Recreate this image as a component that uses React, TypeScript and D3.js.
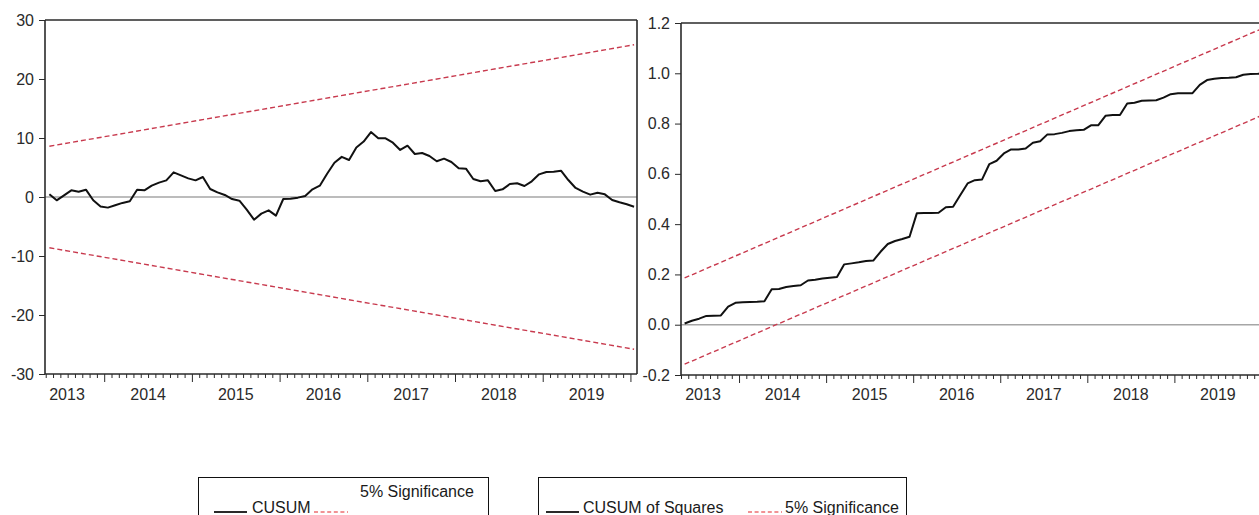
import React, { useRef, useEffect } from 'react';
import * as d3 from 'd3';

// monthly sample 2013M05 .. 2020M01 (81 obs)
const firstYear = 2013;
const firstMonth = 5;
const years = [2013, 2014, 2015, 2016, 2017, 2018, 2019];

const cusum = [
  0.45, -0.56, 0.28, 1.13, 0.9, 1.24, -0.56, -1.6, -1.8, -1.4,
  -1.0, -0.73, 1.24, 1.13, 1.92, 2.43, 2.82, 4.18, 3.67, 3.16,
  2.82, 3.39, 1.36, 0.79, 0.34, -0.34, -0.62, -2.15, -3.84, -2.82,
  -2.26, -3.16, -0.34, -0.28, -0.11, 0.17, 1.3, 1.92, 3.95, 5.8,
  6.8, 6.27, 8.4, 9.4, 11.0, 9.94, 9.94, 9.2, 7.97, 8.7,
  7.29, 7.46, 6.95, 6.05, 6.5, 5.93, 4.86, 4.8, 3.05, 2.66,
  2.82, 1.02, 1.3, 2.2, 2.32, 1.86, 2.66, 3.84, 4.24, 4.29,
  4.46, 2.88, 1.53, 0.9, 0.4, 0.73, 0.45, -0.5, -0.9, -1.24,
  -1.64,
];

const cusumSq = [
  0.005, 0.016, 0.024, 0.035, 0.036, 0.037, 0.072, 0.087, 0.089, 0.09,
  0.091, 0.093, 0.141, 0.142, 0.15, 0.154, 0.157, 0.176, 0.179, 0.184,
  0.187, 0.19, 0.24, 0.244, 0.248, 0.253, 0.255, 0.29, 0.321, 0.333,
  0.341, 0.35, 0.443, 0.444, 0.444, 0.445, 0.467, 0.469, 0.516, 0.562,
  0.575, 0.578, 0.639, 0.652, 0.681, 0.697, 0.697, 0.701, 0.724, 0.73,
  0.757, 0.758, 0.763, 0.77, 0.773, 0.775, 0.793, 0.793, 0.831, 0.834,
  0.834, 0.88, 0.883, 0.891, 0.892, 0.893, 0.903, 0.917, 0.921, 0.921,
  0.921, 0.954, 0.973, 0.978, 0.981, 0.982, 0.984, 0.994, 0.997, 0.998,
  1.0,
];

// 5% significance bounds, value at first and last obs
const boundObs = [0, 80];
const cusumUpper = [8.6, 25.8];
const cusumLower = [-8.6, -25.8];
const sqUpper = [0.186, 1.183];
const sqLower = [-0.157, 0.838];

const cusumTicks = [-30, -20, -10, 0, 10, 20, 30];
const sqTicks = [-0.2, 0.0, 0.2, 0.4, 0.6, 0.8, 1.0, 1.2];

const FONT = '"Liberation Sans", Arial, Helvetica, sans-serif';
const RED = '#c83a4e';
const INK = '#2a2a2a';

interface PanelCfg {
  left: number;
  right: number;
  top: number;
  bottom: number;
  xDomain: [number, number];
  yDomain: [number, number];
  yTicks: number[];
  yFormat: (v: number) => string;
  series: number[];
  upper: number[];
  lower: number[];
  boxRight: boolean;
}

function drawPanel(svg: d3.Selection<SVGSVGElement, unknown, null, undefined>, cfg: PanelCfg) {
  const x = d3.scaleLinear().domain(cfg.xDomain).range([cfg.left, cfg.right]);
  const y = d3.scaleLinear().domain(cfg.yDomain).range([cfg.bottom, cfg.top]);
  const g = svg.append('g');

  // zero line
  g.append('line')
    .attr('x1', cfg.left).attr('x2', cfg.right)
    .attr('y1', y(0)).attr('y2', y(0))
    .attr('stroke', '#a6a6a6').attr('stroke-width', 1.5);

  // bounds
  const seg = d3.line<number>().x((_, i) => x(boundObs[i])).y(d => y(d));
  [cfg.upper, cfg.lower].forEach(b => {
    g.append('path')
      .attr('d', seg(b))
      .attr('fill', 'none')
      .attr('stroke', RED)
      .attr('stroke-width', 1.4)
      .attr('stroke-dasharray', '5,3');
  });

  // main series
  const line = d3.line<number>().x((_, i) => x(i)).y(d => y(d));
  g.append('path')
    .attr('d', line(cfg.series))
    .attr('fill', 'none')
    .attr('stroke', '#111')
    .attr('stroke-width', 2)
    .attr('stroke-linejoin', 'round');

  // frame
  const frame = g.append('g').attr('stroke', INK).attr('stroke-width', 1.6).attr('fill', 'none');
  frame.append('line').attr('x1', cfg.left).attr('x2', cfg.right).attr('y1', cfg.top).attr('y2', cfg.top);
  frame.append('line').attr('x1', cfg.left).attr('x2', cfg.right).attr('y1', cfg.bottom).attr('y2', cfg.bottom);
  frame.append('line').attr('x1', cfg.left).attr('x2', cfg.left).attr('y1', cfg.top).attr('y2', cfg.bottom);
  if (cfg.boxRight) {
    frame.append('line').attr('x1', cfg.right).attr('x2', cfg.right).attr('y1', cfg.top).attr('y2', cfg.bottom);
  }

  // y axis
  const yAxis = g.append('g')
    .attr('transform', `translate(${cfg.left},0)`)
    .call(d3.axisLeft(y).tickValues(cfg.yTicks).tickSize(6).tickSizeOuter(0).tickPadding(5).tickFormat(d => cfg.yFormat(+d)));
  yAxis.select('.domain').remove();
  yAxis.selectAll('line').attr('stroke', INK);
  yAxis.selectAll('text').attr('font-family', FONT).attr('font-size', 16).attr('fill', INK);

  // x axis: month boundaries, January boundaries longer
  const nObs = cfg.series.length;
  const bounds = d3.range(0, nObs + 1).map(i => i - 0.5).filter(v => v >= cfg.xDomain[0] - 0.01 && v <= cfg.xDomain[1] + 0.01);
  const isJan = (v: number) => ((v + 0.5 + firstMonth - 1) % 12) === 0;
  const minor = bounds.filter(v => !isJan(v));
  const major = bounds.filter(isJan);

  const xMinor = g.append('g')
    .attr('transform', `translate(0,${cfg.bottom})`)
    .call(d3.axisBottom(x).tickValues(minor).tickSize(4).tickSizeOuter(0).tickFormat(() => ''));
  const xMajor = g.append('g')
    .attr('transform', `translate(0,${cfg.bottom})`)
    .call(d3.axisBottom(x).tickValues(major).tickSize(8).tickSizeOuter(0).tickFormat(() => ''));
  [xMinor, xMajor].forEach(a => {
    a.select('.domain').remove();
    a.selectAll('line').attr('stroke', INK);
  });

  // year labels centred on each year, kept inside the frame
  years.forEach(yr => {
    const janIdx = (yr - firstYear) * 12 - (firstMonth - 1);
    const mid = x(janIdx + 5.5);
    const xx = Math.max(mid, cfg.left + 22);
    g.append('text')
      .attr('x', xx)
      .attr('y', 400)
      .attr('text-anchor', 'middle')
      .attr('font-family', FONT)
      .attr('font-size', 16)
      .attr('fill', INK)
      .text(String(yr));
  });
}

const App: React.FC = () => {
  const svgRef = useRef<SVGSVGElement>(null);

  useEffect(() => {
    if (!svgRef.current) return;
    const svg = d3.select(svgRef.current);
    svg.selectAll('*').remove();

    drawPanel(svg, {
      left: 45, right: 637, top: 20, bottom: 374,
      xDomain: [-0.6, 80.4],
      yDomain: [-30, 30],
      yTicks: cusumTicks,
      yFormat: v => String(v),
      series: cusum,
      upper: cusumUpper,
      lower: cusumLower,
      boxRight: true,
    });

    drawPanel(svg, {
      left: 681, right: 1268.7, top: 23, bottom: 375,
      xDomain: [-0.5, 80.5],
      yDomain: [-0.2, 1.2],
      yTicks: sqTicks,
      yFormat: v => v.toFixed(1),
      series: cusumSq,
      upper: sqUpper,
      lower: sqLower,
      boxRight: true,
    });

    // legends (boxes run past the bottom edge, as in the source)
    const leg = svg.append('g').attr('font-family', FONT).attr('font-size', 16).attr('fill', '#1a1a1a');
    leg.append('rect').attr('x', 198.5).attr('y', 477.5).attr('width', 290).attr('height', 60)
      .attr('fill', 'none').attr('stroke', '#111').attr('stroke-width', 1);
    leg.append('rect').attr('x', 538.5).attr('y', 477.5).attr('width', 368).attr('height', 60)
      .attr('fill', 'none').attr('stroke', '#111').attr('stroke-width', 1);

    const sample = (x1: number, x2: number, dashed: boolean) => {
      leg.append('line')
        .attr('x1', x1).attr('x2', x2).attr('y1', 512).attr('y2', 512)
        .attr('stroke', dashed ? '#e3262b' : '#2a2a2a')
        .attr('stroke-width', dashed ? 1.2 : 2.2)
        .attr('stroke-dasharray', dashed ? '4,2.6' : null);
    };
    sample(214, 247, false);
    sample(314, 348, true);
    leg.append('text').attr('x', 252).attr('y', 513).text('CUSUM');
    leg.append('text').attr('x', 360).attr('y', 497).text('5% Significance');

    sample(546, 579, false);
    sample(748, 782, true);
    leg.append('text').attr('x', 583).attr('y', 513).text('CUSUM of Squares');
    leg.append('text').attr('x', 785).attr('y', 513).text('5% Significance');
  }, []);

  return (
    <svg
      ref={svgRef}
      width={1259}
      height={515}
      style={{ position: 'absolute', left: 0, top: 0, background: '#fff' }}
    />
  );
};

export default App;
